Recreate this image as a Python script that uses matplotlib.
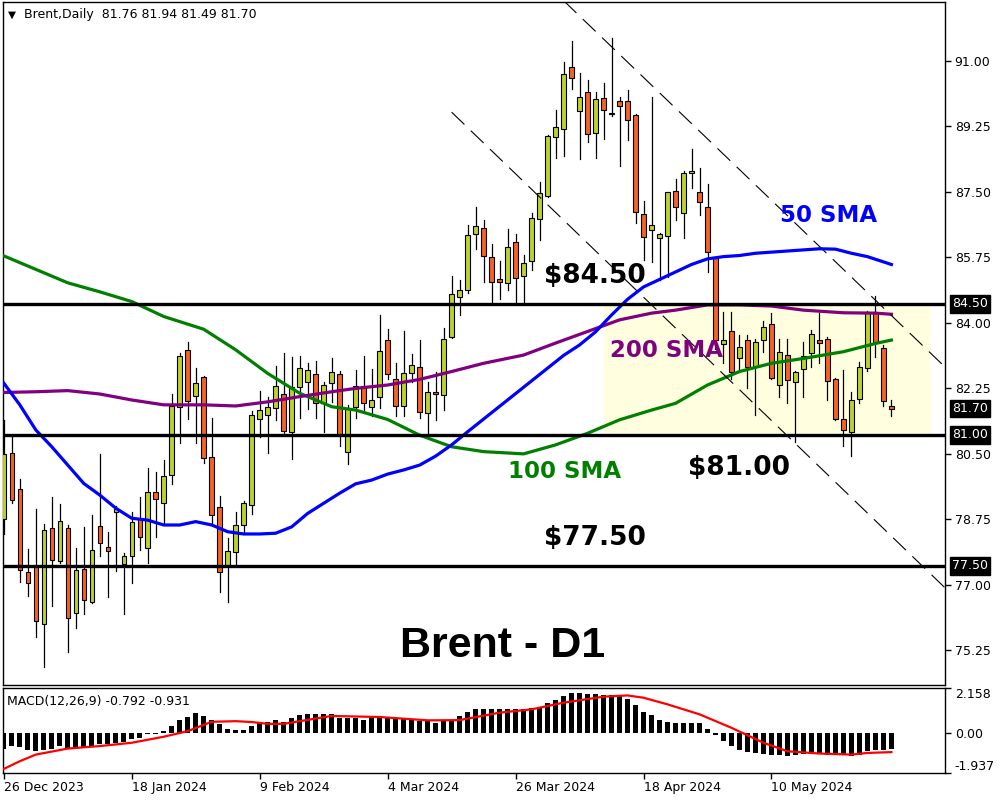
import matplotlib.pyplot as plt
import matplotlib.transforms as mtransforms
from matplotlib.patches import Rectangle

plt.rcParams['font.family'] = ['DejaVu Sans']

# daily candles, 26 Dec 2023 .. end of May 2024
opens = [78.74, 80.52, 79.54, 77.33, 77.48, 75.94, 78.50, 77.63, 78.50, 76.23,
         77.41, 76.52, 78.55, 77.99, 78.95, 77.54, 77.77, 78.75, 77.97, 79.46,
         79.17, 79.92, 81.73, 83.26, 82.04, 82.54, 80.40, 79.07, 77.50, 77.86,
         78.58, 79.12, 81.41, 81.52, 81.71, 82.08, 81.08, 82.27, 82.40, 82.62,
         81.84, 82.38, 82.62, 80.55, 81.75, 82.31, 81.75, 82.00, 83.52, 82.49,
         81.77, 82.64, 82.82, 81.58, 82.13, 82.06, 83.62, 84.69, 84.87, 86.36,
         86.53, 85.76, 85.15, 85.05, 86.14, 85.24, 85.64, 86.77, 87.38, 88.96,
         89.16, 90.82, 89.64, 90.15, 89.06, 89.99, 89.57, 89.92, 89.92, 89.54,
         86.89, 86.47, 86.25, 86.32, 87.51, 86.92, 87.99, 87.48, 87.09, 85.71,
         83.43, 83.77, 83.04, 83.53, 82.84, 83.53, 83.95, 82.33, 83.13, 82.40,
         82.75, 83.18, 83.53, 83.55, 82.49, 81.41, 81.08, 81.95, 82.78, 84.25,
         83.31, 81.76]
highs = [81.40, 80.97, 79.82, 77.95, 79.02, 78.61, 79.35, 79.15, 78.59, 77.97,
         78.54, 78.86, 80.50, 78.40, 79.11, 77.85, 78.93, 79.33, 80.10, 80.00,
         80.33, 82.09, 83.18, 83.47, 82.79, 82.58, 81.46, 79.36, 78.23, 78.93,
         79.24, 81.64, 82.17, 82.00, 82.84, 83.18, 83.09, 83.10, 82.93, 82.96,
         82.40, 83.04, 82.70, 81.80, 82.73, 83.11, 82.76, 84.20, 83.83, 82.91,
         83.77, 83.16, 83.54, 82.42, 82.69, 83.85, 85.24, 85.14, 86.61, 87.09,
         86.74, 86.09, 85.64, 86.49, 86.36, 85.80, 86.92, 87.75, 89.02, 89.68,
         90.95, 91.52, 90.66, 90.48, 90.15, 90.39, 91.59, 90.03, 90.21, 89.57,
         87.25, 90.03, 86.40, 87.50, 87.84, 88.05, 88.64, 88.12, 87.70, 85.75,
         84.29, 84.29, 83.67, 83.67, 83.55, 84.03, 84.26, 83.55, 83.55, 82.70,
         83.49, 83.80, 84.26, 83.60, 82.52, 82.73, 82.15, 82.95, 84.30, 84.71,
         83.40, 81.94]
lows = [78.35, 79.19, 77.06, 76.70, 75.59, 74.79, 76.43, 77.57, 75.19, 75.83,
        76.20, 76.50, 77.77, 76.66, 77.37, 76.22, 77.03, 77.92, 77.57, 78.28,
        78.62, 79.68, 80.77, 81.41, 80.77, 80.24, 78.64, 76.79, 76.52, 77.52,
        78.38, 78.88, 80.93, 80.52, 81.40, 81.05, 80.35, 81.44, 81.70, 81.44,
        81.07, 81.88, 80.71, 80.21, 81.46, 81.60, 81.50, 81.72, 82.50, 81.50,
        81.50, 82.40, 81.44, 81.04, 81.40, 81.66, 83.58, 84.20, 84.80, 85.96,
        85.09, 84.56, 84.62, 84.87, 84.56, 84.56, 85.40, 86.20, 87.35, 88.39,
        88.44, 90.23, 88.36, 88.81, 88.39, 88.89, 89.52, 88.18, 88.88, 86.65,
        85.67, 85.62, 85.14, 85.22, 86.74, 86.25, 87.60, 86.87, 85.34, 83.30,
        82.91, 82.50, 82.69, 82.24, 81.53, 83.20, 82.48, 82.02, 81.84, 80.82,
        82.02, 82.82, 82.93, 81.93, 81.40, 80.71, 80.44, 81.84, 82.70, 83.09,
        81.77, 81.49]
closes = [80.48, 79.26, 77.39, 77.03, 76.03, 78.45, 77.66, 78.69, 76.10, 77.39,
          76.58, 77.92, 78.10, 77.89, 79.02, 77.75, 78.66, 78.26, 79.46, 79.28,
          79.90, 81.77, 83.11, 81.89, 82.38, 80.38, 78.85, 77.33, 77.90, 78.58,
          79.19, 81.52, 81.65, 81.73, 82.30, 81.10, 82.27, 82.78, 82.72, 81.84,
          82.32, 82.67, 80.97, 81.71, 82.31, 81.84, 81.92, 83.23, 82.62, 81.77,
          82.64, 82.87, 81.61, 82.13, 82.09, 83.55, 84.75, 84.87, 86.33, 86.57,
          85.78, 85.08, 85.08, 86.01, 85.20, 85.58, 86.78, 87.45, 88.98, 89.21,
          90.63, 90.52, 90.03, 89.03, 89.96, 89.68, 89.60, 89.78, 89.41, 86.95,
          86.28, 86.61, 86.36, 87.48, 87.08, 87.99, 88.06, 87.22, 85.88, 83.53,
          83.53, 82.69, 83.34, 82.80, 83.49, 83.89, 82.51, 83.20, 82.46, 82.67,
          83.11, 83.69, 83.44, 82.45, 81.42, 81.13, 81.92, 82.80, 84.25, 83.49,
          81.90, 81.70]

# moving averages (bar index, price)
sma50_idx = [0, 2, 4, 6, 8, 10, 12, 14, 16, 18, 20, 22, 24, 26, 28, 30, 32, 34, 36, 38,
             40, 42, 44, 46, 48, 50, 52, 54, 56, 58, 60, 62, 64, 66, 68, 70, 72, 74, 76, 78,
             80, 82, 84, 86, 88, 90, 92, 94, 96, 98, 100, 102, 104, 106, 108, 110, 111]
sma50_val = [82.38, 81.80, 81.13, 80.68, 80.19, 79.70, 79.39, 79.04, 78.77, 78.72,
             78.59, 78.59, 78.68, 78.59, 78.41, 78.35, 78.35, 78.37, 78.54, 78.90,
             79.17, 79.44, 79.69, 79.79, 79.95, 80.06, 80.19, 80.43, 80.73, 81.08,
             81.42, 81.76, 82.10, 82.44, 82.78, 83.12, 83.40, 83.75, 84.20, 84.62,
             84.95, 85.15, 85.35, 85.55, 85.70, 85.76, 85.79, 85.85, 85.88, 85.91,
             85.94, 85.97, 85.96, 85.85, 85.76, 85.62, 85.55]
sma100_idx = [0, 4, 8, 12, 16, 20, 25, 29, 33, 37, 41, 44, 48, 52, 56, 60, 65, 69, 73,
              77, 81, 84, 88, 92, 96, 100, 105, 109, 111]
sma100_val = [85.78, 85.42, 85.06, 84.82, 84.56, 84.16, 83.82, 83.27, 82.64, 82.11,
              81.75, 81.66, 81.41, 80.99, 80.68, 80.55, 80.49, 80.73, 81.04, 81.40,
              81.66, 81.84, 82.33, 82.69, 82.91, 83.04, 83.22, 83.44, 83.53]
sma200_idx = [0, 4, 8, 12, 16, 20, 25, 29, 33, 37, 41, 44, 48, 52, 56, 60, 65, 69, 73,
              77, 81, 84, 88, 92, 96, 100, 105, 109, 111]
sma200_val = [82.13, 82.15, 82.18, 82.09, 81.93, 81.80, 81.80, 81.77, 81.88, 82.02,
              82.15, 82.24, 82.33, 82.48, 82.69, 82.91, 83.13, 83.45, 83.76, 84.07,
              84.25, 84.33, 84.47, 84.47, 84.44, 84.33, 84.26, 84.25, 84.22]

# MACD(12,26,9) main bars and signal line
macd_main = [-0.77, -0.64, -0.69, -0.81, -0.89, -0.81, -0.77, -0.64, -0.72, -0.76,
             -0.72, -0.64, -0.56, -0.53, -0.48, -0.43, -0.32, -0.24, -0.08, -0.05,
             0.08, 0.32, 0.64, 0.77, 0.93, 0.81, 0.61, 0.40, 0.19, 0.13,
             0.13, 0.32, 0.48, 0.52, 0.64, 0.53, 0.72, 0.84, 0.89, 0.89,
             0.89, 0.89, 0.72, 0.72, 0.72, 0.64, 0.77, 0.81, 0.72, 0.68,
             0.68, 0.68, 0.56, 0.56, 0.48, 0.56, 0.64, 0.81, 1.00, 1.13,
             1.16, 1.16, 1.13, 1.16, 1.13, 1.16, 1.21, 1.26, 1.42, 1.56,
             1.77, 1.90, 1.93, 1.85, 1.85, 1.80, 1.80, 1.80, 1.61, 1.32,
             1.01, 0.84, 0.64, 0.53, 0.45, 0.45, 0.45, 0.45, 0.19, -0.13,
             -0.40, -0.64, -0.81, -0.93, -0.97, -1.00, -1.05, -1.09, -1.13, -1.05,
             -1.01, -1.00, -1.01, -1.05, -1.08, -1.09, -1.13, -1.05, -0.89, -0.81,
             -0.81, -0.792]
signal_idx = [0, 2, 4, 8, 12, 16, 20, 23, 26, 29, 31, 33, 35, 37, 41, 47, 50, 53, 57,
              62, 66, 70, 75, 78, 80, 83, 87, 91, 95, 98, 102, 106, 108, 111]
signal_val = [-1.74, -1.37, -1.05, -0.76, -0.64, -0.48, -0.19, 0.08, 0.53, 0.56,
              0.52, 0.43, 0.43, 0.56, 0.81, 0.76, 0.68, 0.60, 0.61, 0.97,
              1.13, 1.45, 1.74, 1.80, 1.69, 1.37, 0.89, 0.24, -0.48, -0.89,
              -1.00, -1.05, -0.97, -0.931]

price_ticks = [91.00, 89.25, 87.50, 85.75, 84.00, 82.25, 80.50, 78.75, 77.00, 75.25]
levels = [84.50, 81.00, 77.50]
boxed_prices = [84.50, 81.70, 81.00, 77.50]
date_idx = [0, 16, 32, 48, 64, 80, 96]
date_labels = ['26 Dec 2023', '18 Jan 2024', '9 Feb 2024', '4 Mar 2024',
               '26 Mar 2024', '18 Apr 2024', '10 May 2024']
zone_idx = [75, 116]
zone_price = [81.00, 84.50]
channel_upper = ([70, 118], [92.60, 82.75])
channel_lower = ([56, 118], [89.62, 76.85])

bull = '#BDD22C'
bear = '#F46224'

fig = plt.figure(figsize=(10, 8), dpi=100)
ax = fig.add_axes([0.003, 0.14375, 0.942, 0.85375])
ax2 = fig.add_axes([0.003, 0.03375, 0.942, 0.10625])

# highlighted zone
ax.add_patch(Rectangle((zone_idx[0], zone_price[0]), zone_idx[1] - zone_idx[0],
                       zone_price[1] - zone_price[0], facecolor='#FFFFE0',
                       edgecolor='none', zorder=0))

# candles
for i in range(len(opens)):
    o, h, l, c = opens[i], highs[i], lows[i], closes[i]
    ax.plot([i, i], [l, h], color='black', lw=0.9, zorder=2)
    bottom = min(o, c)
    height = max(abs(c - o), 0.02)
    ax.add_patch(Rectangle((i - 0.28, bottom), 0.56, height,
                           facecolor=bull if c >= o else bear,
                           edgecolor='black', lw=0.8, zorder=3))

# moving averages
ax.plot(sma100_idx, sma100_val, color='#008000', lw=2.3, zorder=4)
ax.plot(sma200_idx, sma200_val, color='#800080', lw=2.3, zorder=4)
ax.plot(sma50_idx, sma50_val, color='#0000FF', lw=2.3, zorder=5)

# channel lines
ax.plot(*channel_upper, color='black', lw=0.8, dashes=(16, 8), zorder=4)
ax.plot(*channel_lower, color='black', lw=0.8, dashes=(16, 8), zorder=4)

for lv in levels:
    ax.axhline(lv, color='black', lw=2.4, zorder=6)

ax.set_xlim(-0.1, 117.7)
ax.set_ylim(74.315, 92.563)
ax.set_xticks([])
ax.yaxis.tick_right()
ax.set_yticks(price_ticks)
ax.set_yticklabels([f'{p:.2f}' for p in price_ticks])
ax.tick_params(axis='y', direction='out', length=4, width=1, labelsize=9, pad=3)
for s in ax.spines.values():
    s.set_linewidth(1)

trans = mtransforms.blended_transform_factory(ax.transAxes, ax.transData)
for p in boxed_prices:
    ax.text(1.0074, p, f'{p:.2f}', transform=trans, color='white', fontsize=9,
            ha='left', va='center',
            bbox=dict(boxstyle='square,pad=0.18', facecolor='black', edgecolor='black'))

# annotations
ax.text(97.1, 86.69, '50 SMA', color='#0000FF', fontsize=16.5, fontweight='bold', zorder=7)
ax.text(67.6, 85.06, '$84.50', color='black', fontsize=19, fontweight='bold', zorder=7)
ax.text(75.8, 83.09, '200 SMA', color='#800080', fontsize=16.5, fontweight='bold', zorder=7)
ax.text(63.1, 79.84, '100 SMA', color='#008000', fontsize=16.5, fontweight='bold', zorder=7)
ax.text(85.6, 79.93, '$81.00', color='black', fontsize=19, fontweight='bold', zorder=7)
ax.text(67.6, 78.06, '$77.50', color='black', fontsize=19, fontweight='bold', zorder=7)
ax.text(49.6, 75.07, 'Brent - D1', color='black', fontsize=31, fontweight='bold',
        family='Liberation Sans', zorder=7)

ax.text(0.0055, 0.982, '\u25bc', transform=ax.transAxes, fontsize=7.5, va='center')
ax.text(0.0226, 0.982, 'Brent,Daily  81.76 81.94 81.49 81.70', transform=ax.transAxes,
        fontsize=9, va='center')

# MACD panel
ax2.bar(range(len(macd_main)), macd_main, width=0.65, color='black', zorder=2)
ax2.plot(signal_idx, signal_val, color='#FF0000', lw=1.6, zorder=3)
ax2.set_xlim(-0.1, 117.7)
ax2.set_ylim(-1.937, 2.158)
ax2.yaxis.tick_right()
ax2.set_yticks([2.158, 0.0, -1.937])
ax2.set_yticklabels(['2.158', '0.00', '-1.937'])
ax2.tick_params(axis='y', direction='out', length=4, width=1, labelsize=9, pad=3)
ylabels = ax2.get_yticklabels()
ylabels[0].set_verticalalignment('top')
ylabels[2].set_verticalalignment('bottom')
ax2.set_xticks(date_idx)
ax2.set_xticklabels(date_labels, ha='left')
ax2.tick_params(axis='x', direction='out', length=4, width=1, labelsize=9, pad=2)
for s in ax2.spines.values():
    s.set_linewidth(1)
ax2.text(0.0045, 0.847, 'MACD(12,26,9) -0.792 -0.931', transform=ax2.transAxes,
         fontsize=9, va='center')

fig.savefig('out.png', dpi=100)
